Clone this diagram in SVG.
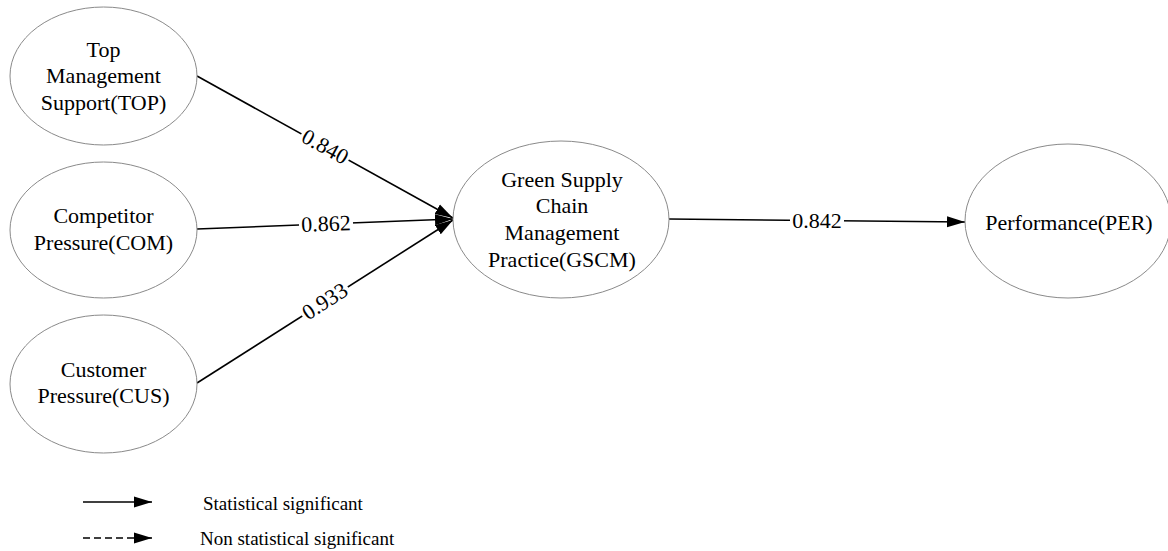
<svg xmlns="http://www.w3.org/2000/svg" width="1168" height="551" viewBox="0 0 1168 551">
<style>
  .node ellipse { fill: #ffffff; stroke: #8a8a8a; stroke-width: 1; }
  .node text, .legend text { font-family: "Liberation Serif", "Times New Roman", serif; fill: #000; }
  .node text { font-size: 22px; text-anchor: middle; }
  .edge line { stroke: #000; stroke-width: 1.6; fill: none; }
  .elabel text { font-family: "Liberation Serif", "Times New Roman", serif; font-size: 22px; text-anchor: middle; fill: #000; }
  .elabel rect { fill: #fff; }
  .legend line { stroke: #000; stroke-width: 1.6; }
  .legend text { font-size: 19px; }
</style>
<defs>
  <marker id="arrow" markerUnits="userSpaceOnUse" markerWidth="20" markerHeight="12" refX="18" refY="6" orient="auto">
    <path d="M0,0.5 L18,6 L0,11.5 Z" fill="#000"/>
  </marker>
</defs>
<rect width="1168" height="551" fill="#fff"/>

<g id="connectors" class="edge">
  <line x1="197" y1="76" x2="453" y2="218" marker-end="url(#arrow)"/>
  <line x1="197" y1="229" x2="453" y2="219" marker-end="url(#arrow)"/>
  <line x1="197" y1="383" x2="453" y2="220" marker-end="url(#arrow)"/>
  <line x1="669" y1="219" x2="965" y2="222" marker-end="url(#arrow)"/>
  <g class="elabel" transform="translate(325,147) rotate(29)">
    <rect x="-27" y="-8" width="54" height="16"/>
    <text y="7">0.840</text>
  </g>
  <g class="elabel" transform="translate(326,224) rotate(-2.2)">
    <rect x="-27" y="-8" width="54" height="16"/>
    <text y="7">0.862</text>
  </g>
  <g class="elabel" transform="translate(325,301.5) rotate(-32.5)">
    <rect x="-27" y="-8" width="54" height="16"/>
    <text y="7">0.933</text>
  </g>
  <g class="elabel" transform="translate(817,221)">
    <rect x="-27" y="-8" width="54" height="16"/>
    <text y="7">0.842</text>
  </g>
</g>

<g id="TOP" class="node">
  <ellipse cx="103.5" cy="76" rx="93.5" ry="69"/>
  <text x="103.5" y="57">Top</text>
  <text x="103.5" y="83">Management</text>
  <text x="103.5" y="110">Support(TOP)</text>
</g>
<g id="COM" class="node">
  <ellipse cx="103.5" cy="230" rx="93.5" ry="68"/>
  <text x="103.5" y="223">Competitor</text>
  <text x="103.5" y="250">Pressure(COM)</text>
</g>
<g id="CUS" class="node">
  <ellipse cx="103.5" cy="384" rx="93.5" ry="69"/>
  <text x="103.5" y="377">Customer</text>
  <text x="103.5" y="403">Pressure(CUS)</text>
</g>
<g id="GSCM" class="node">
  <ellipse cx="561" cy="219.5" rx="108" ry="78.5"/>
  <text x="562" y="187">Green Supply</text>
  <text x="562" y="213">Chain</text>
  <text x="562" y="240">Management</text>
  <text x="562" y="267">Practice(GSCM)</text>
</g>
<g id="PER" class="node">
  <ellipse cx="1068" cy="221" rx="103" ry="77"/>
  <text x="1069" y="230">Performance(PER)</text>
</g>

<g id="legend" class="legend">
  <line x1="83" y1="502" x2="152" y2="502" marker-end="url(#arrow)"/>
  <line x1="83" y1="538" x2="152" y2="538" stroke-dasharray="7,4" marker-end="url(#arrow)"/>
  <text x="203" y="510">Statistical significant</text>
  <text x="200" y="545">Non statistical significant</text>
</g>
</svg>
